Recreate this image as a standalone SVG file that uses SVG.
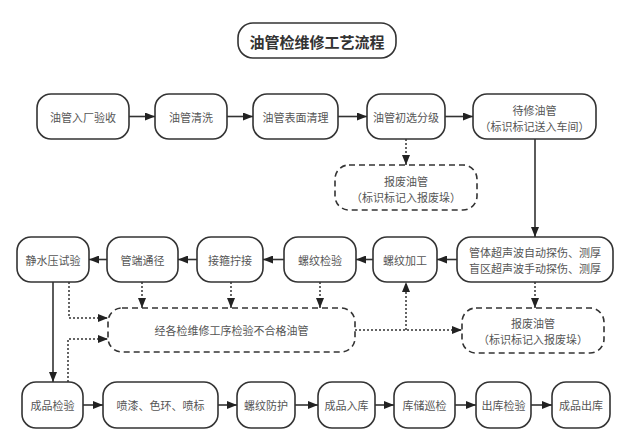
<svg xmlns="http://www.w3.org/2000/svg" width="630" height="448" viewBox="0 0 630 448">
<defs>
<marker id="ah" viewBox="0 0 10 8" refX="10" refY="4" markerWidth="10" markerHeight="8" markerUnits="userSpaceOnUse" orient="auto">
<path d="M0,0 L10,4 L0,8 z" fill="#222"/>
</marker>
</defs>
<style>
.n{fill:#fff;stroke:#333;stroke-width:1.6}
.d{fill:#fff;stroke:#333;stroke-width:1.6;stroke-dasharray:6 4}
.t{font-family:"Noto Sans CJK SC","Noto Sans",sans-serif;font-size:11px;fill:#555;text-anchor:middle;dominant-baseline:central}
.tt{font-family:"Noto Sans CJK SC","Noto Sans",sans-serif;font-size:15px;font-weight:bold;fill:#333;text-anchor:middle;dominant-baseline:central}
.s{fill:none;stroke:#333;stroke-width:1.6;marker-end:url(#ah)}
.o{fill:none;stroke:#333;stroke-width:1.5;stroke-dasharray:2 2;marker-end:url(#ah)}
.ol{fill:none;stroke:#333;stroke-width:1.5;stroke-dasharray:2 2}
</style>
<rect width="630" height="448" fill="#fff"/>
<g id="title"><rect class="n" x="238" y="23" width="158" height="35" rx="15"/><text class="tt" x="317" y="41">油管检维修工艺流程</text></g>

<g id="n1"><rect class="n" x="37" y="94" width="92" height="45" rx="14"/><text class="t" x="83" y="116.5">油管入厂验收</text></g>
<g id="n2"><rect class="n" x="155" y="94" width="72" height="45" rx="14"/><text class="t" x="191" y="116.5">油管清洗</text></g>
<g id="n3"><rect class="n" x="253" y="94" width="85" height="45" rx="14"/><text class="t" x="295.5" y="116.5">油管表面清理</text></g>
<g id="n4"><rect class="n" x="367" y="94" width="78" height="45" rx="14"/><text class="t" x="406" y="116.5">油管初选分级</text></g>
<g id="n5"><rect class="n" x="473" y="94" width="123" height="45" rx="14"/><text class="t" x="534.5" y="110">待修油管</text><text class="t" x="534.5" y="126">（标识标记送入车间）</text></g>

<g id="scrap1"><rect class="d" x="335" y="165" width="142" height="45" rx="14"/><text class="t" x="406" y="181">报废油管</text><text class="t" x="406" y="197">（标识标记入报废垛）</text></g>

<g id="n6"><rect class="n" x="457" y="237" width="156" height="45" rx="14"/><text class="t" x="535" y="251.5">管体超声波自动探伤、测厚</text><text class="t" x="535" y="268">盲区超声波手动探伤、测厚</text></g>
<g id="n7"><rect class="n" x="373" y="237" width="64" height="45" rx="14"/><text class="t" x="405" y="259.5">螺纹加工</text></g>
<g id="n8"><rect class="n" x="284" y="237" width="72" height="45" rx="14"/><text class="t" x="320" y="259.5">螺纹检验</text></g>
<g id="n9"><rect class="n" x="197" y="237" width="66" height="45" rx="14"/><text class="t" x="230" y="259.5">接箍拧接</text></g>
<g id="n10"><rect class="n" x="107" y="237" width="71" height="45" rx="14"/><text class="t" x="142.5" y="259.5">管端通径</text></g>
<g id="n11"><rect class="n" x="17" y="237" width="72" height="45" rx="14"/><text class="t" x="53" y="259.5">静水压试验</text></g>

<g id="reject"><rect class="d" x="108" y="308" width="247" height="44" rx="14"/><text class="t" x="231.5" y="330">经各检维修工序检验不合格油管</text></g>
<g id="scrap2"><rect class="d" x="462" y="308" width="142" height="45" rx="14"/><text class="t" x="533" y="323">报废油管</text><text class="t" x="533" y="339">（标识标记入报废垛）</text></g>

<g id="m1"><rect class="n" x="22" y="382" width="61" height="46" rx="14"/><text class="t" x="52.5" y="405">成品检验</text></g>
<g id="m2"><rect class="n" x="103" y="382" width="115" height="46" rx="14"/><text class="t" x="160.5" y="405">喷漆、色环、喷标</text></g>
<g id="m3"><rect class="n" x="237" y="382" width="58" height="46" rx="14"/><text class="t" x="266" y="405">螺纹防护</text></g>
<g id="m4"><rect class="n" x="318" y="382" width="57" height="46" rx="14"/><text class="t" x="346.5" y="405">成品入库</text></g>
<g id="m5"><rect class="n" x="394" y="382" width="61" height="46" rx="14"/><text class="t" x="424.5" y="405">库储巡检</text></g>
<g id="m6"><rect class="n" x="476" y="382" width="55" height="46" rx="14"/><text class="t" x="503.5" y="405">出库检验</text></g>
<g id="m7"><rect class="n" x="552" y="382" width="58" height="46" rx="14"/><text class="t" x="581" y="405">成品出库</text></g>

<g id="connectors">
<path class="s" d="M129,116.5 H155"/>
<path class="s" d="M227,116.5 H253"/>
<path class="s" d="M338,116.5 H367"/>
<path class="s" d="M445,116.5 H473"/>
<path class="s" d="M535,139 V237"/>
<path class="s" d="M457,259.5 H437"/>
<path class="s" d="M373,259.5 H356"/>
<path class="s" d="M284,259.5 H263"/>
<path class="s" d="M197,259.5 H178"/>
<path class="s" d="M107,259.5 H89"/>
<path class="s" d="M53,282 V382"/>
<path class="s" d="M83,405 H103"/>
<path class="s" d="M218,405 H237"/>
<path class="s" d="M295,405 H318"/>
<path class="s" d="M375,405 H394"/>
<path class="s" d="M455,405 H476"/>
<path class="s" d="M531,405 H552"/>
<path class="o" d="M406,139 V165"/>
<path class="o" d="M69,282 V318 H108"/>
<path class="o" d="M68,382 V339 H108"/>
<path class="o" d="M142,282 V308"/>
<path class="o" d="M231,282 V308"/>
<path class="o" d="M320,282 V308"/>
<path class="o" d="M355,330 H462"/>
<path class="o" d="M406,330 V282"/>
<path class="o" d="M535,282 V308"/>
</g>
</svg>
